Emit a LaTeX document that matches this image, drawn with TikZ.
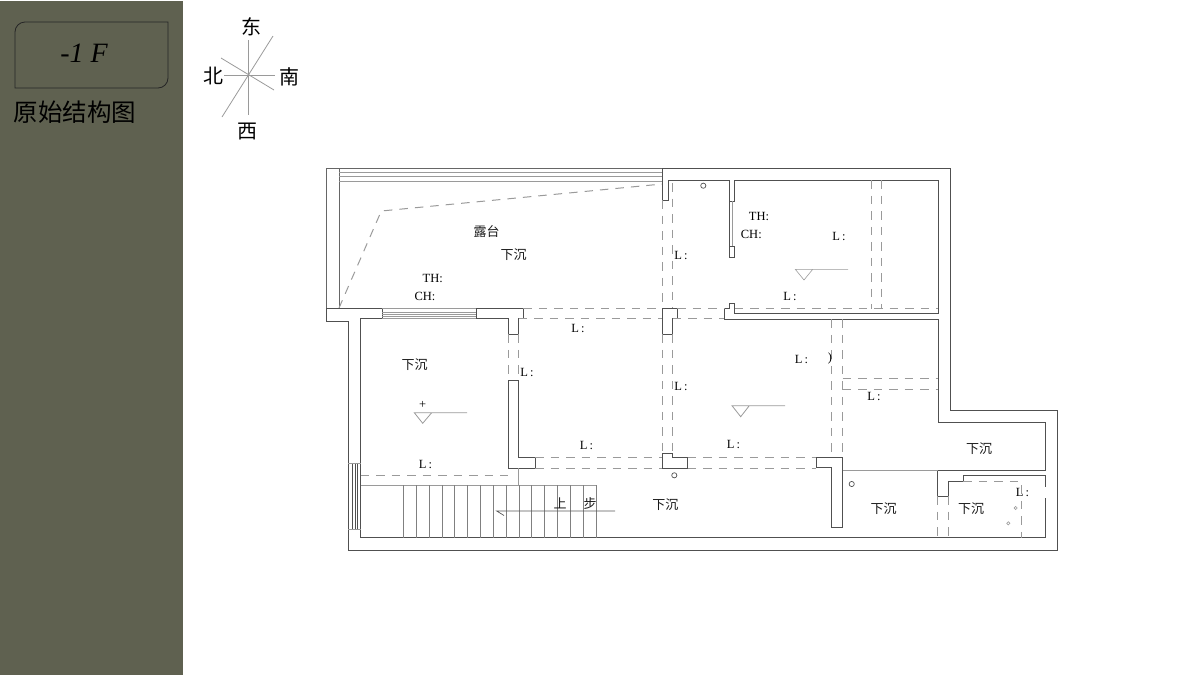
\documentclass[tikz,border=0pt]{standalone}
\usepackage{fontspec}
\setmainfont{Liberation Serif}
\newfontfamily\cjk{Noto Sans CJK SC}
\definecolor{panel}{HTML}{5F6150}
\definecolor{wallc}{HTML}{505050}
\definecolor{thinc}{HTML}{9A9A9A}
\tikzset{
  wall/.style={draw=wallc, line width=1pt, line join=miter},
  beam/.style={draw=thinc, line width=1pt, dash pattern=on 8.5pt off 7pt},
  thin line/.style={draw=thinc, line width=0.8pt},
  mark text/.style={inner sep=0pt, font=\fontsize{12.5}{13}\selectfont, text=black},
  cn text/.style={inner sep=0pt, font=\cjk\fontsize{13}{13}\selectfont, text=black!90},
  dir text/.style={inner sep=0pt, font=\cjk\fontsize{20}{20}\selectfont, text=black},
}
\begin{document}
\begin{tikzpicture}[x=1pt, y=-1pt]
  \useasboundingbox (0,0) rectangle (1200,675);
  % side panel
  \fill[panel] (0,1) rectangle (183,675);
  \draw[black!85, line width=0.8pt] (25,22) -- (168,22) -- (168,78) arc[start angle=0, end angle=90, radius=10]
    -- (15,88) -- (15,32) arc[start angle=180, end angle=270, radius=10] -- cycle;
  \node[inner sep=0pt, font=\itshape\fontsize{28}{28}\selectfont, text=black] (title) at (84,53) {-1 F};
  \node[inner sep=0pt, font=\cjk\fontsize{24.5}{25}\selectfont, text=black] (subtitle) at (75,112) {原始结构图};
  % compass
  \draw[thinc, line width=0.8pt] (248,40) -- (248,115);
  \draw[thinc, line width=0.8pt] (224,75) -- (275,75);
  \draw[thinc, line width=0.8pt] (273,36) -- (222,117);
  \draw[thinc, line width=0.8pt] (221,58) -- (274,90);
  \node[dir text] (east) at (251,27) {东};
  \node[dir text] (north) at (213,76) {北};
  \node[dir text] (south) at (289,77) {南};
  \node[dir text] (west) at (247,132) {西};
  % terrace
  \draw[thin line, draw=black!60] (662.3,168) -- (326,168) -- (326,308);
  \draw[thin line, draw=black!60] (339,168) -- (339,308);
  \draw[thin line] (339,172.7) -- (662,172.7);
  \draw[thin line] (339,176) -- (662,176);
  \draw[thin line] (339,181) -- (662,181);
  \draw[beam] (339,308) -- (381.3,211) -- (662.3,184);
  % outer wall
  \draw[wall] (382.3,308) -- (326,308) -- (326,321) -- (348.3,321) -- (348.3,550.3) -- (1057.7,550.3)
    -- (1057.7,410) -- (950,410) -- (950,168) -- (662.3,168) -- (662.3,200) -- (668.3,200) -- (668.3,180.3)
    -- (729.3,180.3) -- (729.3,201) -- (734.7,201) -- (734.7,180.3) -- (938.3,180.3) -- (938.3,313.7)
    -- (734.7,313.7) -- (734.7,303.3) -- (729.5,303.3) -- (729.5,308.5) -- (724,308.5) -- (724,319.3)
    -- (938.3,319.3) -- (938.3,422.3) -- (1045,422.3) -- (1045,470) -- (937.7,470) -- (937.7,496)
    -- (948.3,496) -- (948.3,481.7) -- (963.3,481.7) -- (963.3,475.3) -- (1045,475.3) -- (1045,487);
  \draw[wall] (1045,498) -- (1045,537.7) -- (360.5,537.7) -- (360.5,318.3) -- (382.3,318.3) -- (382.3,308);
  % piers
  \draw[wall] (476,308) -- (523.3,308) -- (523.3,318.3) -- (518.7,318.3) -- (518.7,334.3) -- (508,334.3) -- (508,318.3) -- (476,318.3) -- cycle;
  \draw[wall] (662.3,308.3) -- (677.3,308.3) -- (677.3,318.7) -- (672.7,318.7) -- (672.7,334.3) -- (662.3,334.3) -- cycle;
  \draw[wall] (508,380.3) -- (518.3,380.3) -- (518.3,457.7) -- (535,457.7) -- (535,468) -- (508,468) -- cycle;
  \draw[wall] (662,453.7) -- (672.7,453.7) -- (672.7,457) -- (687.7,457) -- (687.7,468) -- (662,468) -- cycle;
  \draw[wall] (816.3,457) -- (842.7,457) -- (842.7,527.7) -- (831,527.7) -- (831,467.7) -- (816.3,467.7) -- cycle;
  % windows
  \foreach \y in {312,314,316,318.3} \draw[thin line] (382.3,\y) -- (476,\y);
  \draw[thin line] (382.3,308.5) -- (476,308.5);
  \draw[wall, line width=0.8pt] (729.3,246) rectangle (734.7,257.3);
  \draw[wall, line width=0.8pt] (729.5,201) -- (729.5,246);
  \draw[thinc, line width=1.4pt] (732.6,201) -- (732.6,246);
  \draw[thin line] (348.3,463.7) -- (360.5,463.7);
  \draw[thin line] (348.3,529.3) -- (360.5,529.3);
  \foreach \x in {352,355,357} \draw[wallc, line width=0.6pt] (\x,463.7) -- (\x,529.3);
  % beams
  \draw[beam] (523.3,308.5) -- (662.3,308.5);
  \draw[beam] (518.7,318.5) -- (662.3,318.5);
  \draw[beam] (677.3,308.5) -- (724,308.5);
  \draw[beam] (672.7,318.7) -- (724,318.7);
  \draw[beam] (734.7,308.5) -- (938.3,308.5);
  \draw[beam] (662.3,200) -- (662.3,308.3);
  \draw[beam] (672.7,183) -- (672.7,308.3);
  \draw[beam] (662.3,334.3) -- (662.3,453.7);
  \draw[beam] (672.7,334.3) -- (672.7,453.7);
  \draw[beam] (508,334.3) -- (508,380.3);
  \draw[beam] (518.5,334.3) -- (518.5,380.3);
  \draw[beam] (871.3,180.3) -- (871.3,308.5);
  \draw[beam] (881.7,180.3) -- (881.7,308.5);
  \draw[beam] (831,319.3) -- (831,457);
  \draw[beam] (842.7,319.3) -- (842.7,457);
  \draw[beam] (842.7,378.7) -- (938.3,378.7);
  \draw[beam] (842.7,389) -- (938.3,389);
  \draw[beam] (535,457.5) -- (662,457.5);
  \draw[beam] (535,468) -- (662,468);
  \draw[beam] (687.7,457.3) -- (816.3,457.3);
  \draw[beam] (687.7,468) -- (816.3,468);
  \draw[beam] (360.5,475) -- (508,475);
  \draw[beam] (937.7,496) -- (937.7,537.7);
  \draw[beam] (948.3,496) -- (948.3,537.7);
  \draw[beam] (963.3,481.7) -- (1021.7,481.7) -- (1021.7,537.7);
  \draw[thin line] (518.5,468) -- (518.5,485);
  \draw[thin line] (842.7,470) -- (937.7,470);
  % stairs
  \draw[thin line] (360.5,485) -- (596,485);
  \foreach \i in {0,...,15} \draw[black!50, line width=0.7pt] (403.3+12.85*\i,485) -- (403.3+12.85*\i,537.7);
  \draw[black!65, line width=0.7pt] (615,511) -- (496.7,511) -- (504,515.5);
  % level marks
  \draw[thin line] (467,412.7) -- (414.3,412.7) -- (422.7,423.3) -- (431.7,412.7);
  \draw[thin line] (785,405.7) -- (732,405.7) -- (740.7,416.7) -- (749.3,405.7);
  \draw[thin line, line width=0.6pt] (848,269.3) -- (795.3,269.3) -- (804,280) -- (812.7,269.3);
  % pipes
  \draw[wallc, line width=0.7pt] (703.3,185.7) circle (2.6);
  \draw[wallc, line width=0.7pt] (674.3,475.3) circle (2.6);
  \draw[wallc, line width=0.7pt] (851.7,484) circle (2.6);
  \draw[thinc, line width=0.6pt] (1015.7,508) circle (1.6);
  \draw[thinc, line width=0.6pt] (1008.3,523.3) circle (1.6);
  % labels
  \node[cn text] (terrace) at (486.7,232) {露台};
  \node[cn text] (sunkA) at (513.7,255) {下沉};
  \node[cn text] (sunkB) at (414.5,364.3) {下沉};
  \node[cn text] (sunkC) at (665.3,505) {下沉};
  \node[cn text] (sunkD) at (979,448.3) {下沉};
  \node[cn text] (sunkE) at (883.7,509) {下沉};
  \node[cn text] (sunkF) at (971,509) {下沉};
  \node[cn text] (stairA) at (560,503.5) {上};
  \node[cn text] (stairB) at (590,503.5) {步};
  \node[mark text] (thA) at (432.7,278) {TH:};
  \node[mark text] (chA) at (425,296) {CH:};
  \node[mark text] (thB) at (759,216.7) {TH:};
  \node[mark text] (chB) at (751.3,234) {CH:};
  \node[mark text] (lenA) at (578,328) {L\,:};
  \node[mark text] (lenB) at (681,255.7) {L\,:};
  \node[mark text] (lenC) at (839,236) {L\,:};
  \node[mark text] (lenD) at (790,296.7) {L\,:};
  \node[mark text] (lenE) at (801.5,359.3) {L\,:};
  \node[mark text] (lenF) at (681,386) {L\,:};
  \node[mark text] (lenG) at (874,396.7) {L\,:};
  \node[mark text] (lenH) at (733.5,444.7) {L\,:};
  \node[mark text] (lenI) at (527,372.7) {L\,:};
  \node[mark text] (lenJ) at (586.5,445) {L\,:};
  \node[mark text] (lenK) at (425.5,464) {L\,:};
  \node[mark text] (lenL) at (1022.5,492.3) {L\,:};
  \node[mark text] (paren) at (830,358.5) {)};
  \node[mark text] (plus) at (422.7,405) {+};
\end{tikzpicture}
\end{document}
